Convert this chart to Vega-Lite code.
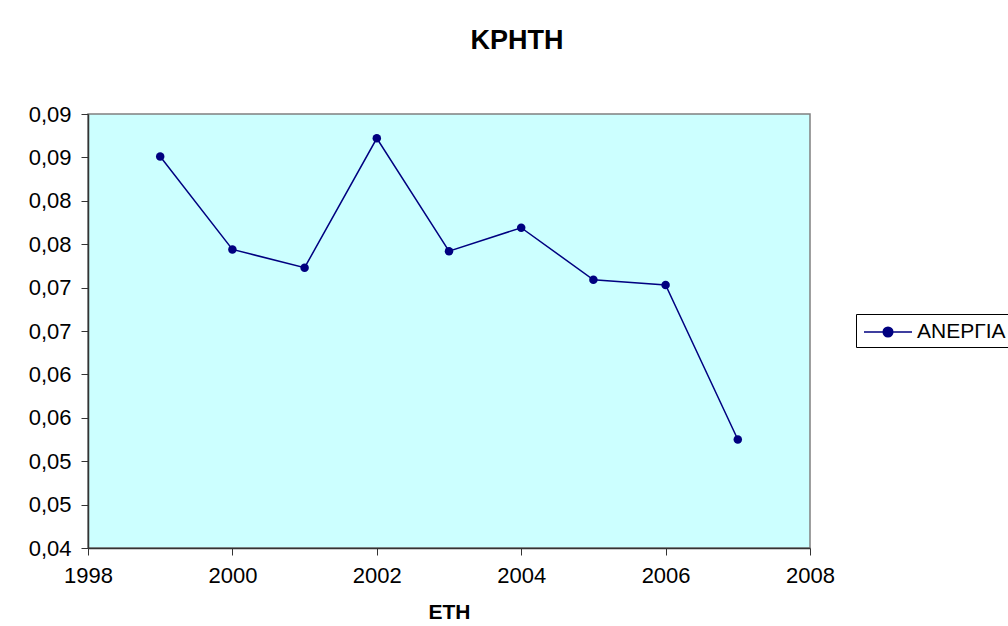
{
  "$schema": "https://vega.github.io/schema/vega-lite/v6.json",
  "autosize": "none",
  "width": 722,
  "height": 434,
  "padding": {"left": 88, "top": 114, "right": 198, "bottom": 78},
  "background": "white",
  "title": {
    "text": "ΚΡΗΤΗ",
    "font": "Liberation Sans",
    "fontSize": 27,
    "fontWeight": "bold",
    "color": "black",
    "anchor": "middle",
    "frame": "group",
    "dx": 68,
    "offset": 48
  },
  "data": {
    "values": [
      {"year": 1999, "value": 0.0851, "series": "ΑΝΕΡΓΙΑ"},
      {"year": 2000, "value": 0.0744, "series": "ΑΝΕΡΓΙΑ"},
      {"year": 2001, "value": 0.0723, "series": "ΑΝΕΡΓΙΑ"},
      {"year": 2002, "value": 0.0872, "series": "ΑΝΕΡΓΙΑ"},
      {"year": 2003, "value": 0.0742, "series": "ΑΝΕΡΓΙΑ"},
      {"year": 2004, "value": 0.0769, "series": "ΑΝΕΡΓΙΑ"},
      {"year": 2005, "value": 0.0709, "series": "ΑΝΕΡΓΙΑ"},
      {"year": 2006, "value": 0.0703, "series": "ΑΝΕΡΓΙΑ"},
      {"year": 2007, "value": 0.0525, "series": "ΑΝΕΡΓΙΑ"}
    ]
  },
  "mark": {
    "type": "line",
    "strokeWidth": 1.5,
    "point": {"filled": true, "size": 72, "opacity": 1}
  },
  "encoding": {
    "x": {
      "field": "year",
      "type": "quantitative",
      "scale": {"domain": [1998, 2008], "nice": false, "zero": false},
      "axis": {
        "title": "ΕΤΗ",
        "values": [1998, 2000, 2002, 2004, 2006, 2008],
        "format": "d",
        "grid": false,
        "labelFlush": false,
        "labelOverlap": false,
        "tickSize": 7,
        "labelPadding": 10,
        "titlePadding": 15
      }
    },
    "y": {
      "field": "value",
      "type": "quantitative",
      "scale": {"domain": [0.04, 0.09], "nice": false, "zero": false},
      "axis": {
        "title": null,
        "values": [0.04, 0.045, 0.05, 0.055, 0.06, 0.065, 0.07, 0.075, 0.08, 0.085, 0.09],
        "labelExpr": "replace(format(round(round(datum.value*1000)/10)/100, '.2f'), '.', ',')",
        "grid": false,
        "labelFlush": false,
        "labelOverlap": false,
        "tickSize": 7,
        "labelPadding": 10
      }
    },
    "color": {
      "field": "series",
      "type": "nominal",
      "scale": {"range": ["#000080"]},
      "legend": {
        "title": null,
        "orient": "none",
        "legendX": 768,
        "legendY": 200,
        "symbolType": "M-2,0H2M-0.4,0A0.4,0.4 0 1,1 0.4,0A0.4,0.4 0 1,1 -0.4,0Z",
        "symbolSize": 576,
        "symbolStrokeWidth": 1.5,
        "symbolFillColor": "#000080",
        "symbolStrokeColor": "#000080",
        "symbolOffset": 14,
        "labelFont": "Liberation Sans",
        "labelFontSize": 21,
        "labelColor": "black",
        "strokeColor": "black",
        "fillColor": "white",
        "padding": 5,
        "labelOffset": 16,
        "labelLimit": 300
      }
    }
  },
  "config": {
    "view": {"fill": "#CCFFFF", "stroke": "#808080", "strokeWidth": 1.5},
    "axis": {
      "labelFont": "Liberation Sans",
      "labelFontSize": 22,
      "labelColor": "black",
      "titleFont": "Liberation Sans",
      "titleFontSize": 21,
      "titleFontWeight": "bold",
      "titleColor": "black",
      "domainColor": "#333333",
      "domainWidth": 1.5,
      "tickColor": "#333333",
      "tickWidth": 1
    }
  }
}
